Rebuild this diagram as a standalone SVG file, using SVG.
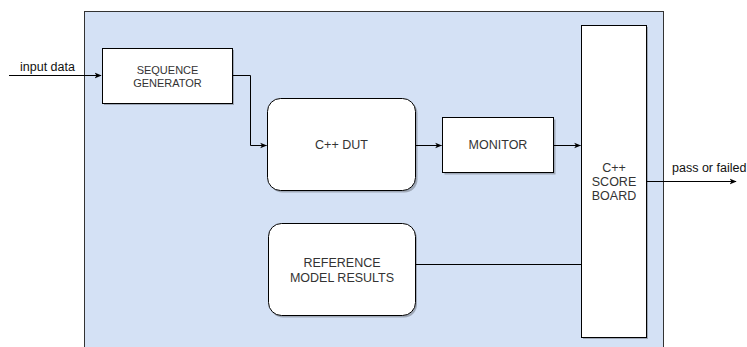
<svg xmlns="http://www.w3.org/2000/svg" width="747" height="347" viewBox="0 0 747 347">
<style>
.box{fill:#ffffff;stroke:#000;stroke-width:1}
.sh{fill:#000;opacity:0.25}
.t{font-family:"Liberation Sans",Arial,sans-serif;font-size:12.5px;fill:#333;text-anchor:middle}
.s{font-size:11px}
.lbl{font-family:"Liberation Sans",Arial,sans-serif;font-size:12.5px;fill:#111}
.c{fill:none;stroke:#000;stroke-width:1}
</style>
<defs>
<marker id="arr" viewBox="0 0 10 10" refX="9" refY="5" markerWidth="7" markerHeight="7" orient="auto" markerUnits="userSpaceOnUse">
<path d="M0,1 L10,5 L0,9 L2.5,5 Z" fill="#000"/>
</marker>
</defs>
<g id="container">
<rect x="84.5" y="11.5" width="579" height="340" fill="#d4e1f5" stroke="#333"/>
</g>
<g id="seqgen">
<rect class="sh" x="104" y="50" width="130" height="55"/>
<rect class="box" x="102.5" y="48.5" width="130" height="55"/>
<text class="t s" x="167.5" y="73.5">SEQUENCE</text>
<text class="t s" x="167.5" y="87">GENERATOR</text>
</g>
<g id="dut">
<rect class="sh" x="269.5" y="100.5" width="148" height="92" rx="13"/>
<rect class="box" x="267.5" y="98.5" width="148" height="92" rx="13"/>
<text class="t" x="341.5" y="149">C++ DUT</text>
</g>
<g id="monitor">
<rect class="sh" x="444.5" y="119.5" width="111" height="55"/>
<rect class="box" x="442.5" y="117.5" width="111" height="55"/>
<text class="t" x="498" y="149">MONITOR</text>
</g>
<g id="scoreboard">
<rect class="sh" x="583" y="27" width="65" height="312"/>
<rect class="box" x="581.5" y="25.5" width="65" height="312"/>
<text class="t" x="614" y="172">C++</text>
<text class="t" x="614" y="186">SCORE</text>
<text class="t" x="614" y="199.5">BOARD</text>
</g>
<g id="refmodel">
<rect class="sh" x="270" y="225.5" width="147" height="92" rx="13"/>
<rect class="box" x="268.5" y="223.5" width="147" height="92" rx="13"/>
<text class="t" x="342" y="267">REFERENCE</text>
<text class="t" x="342" y="282">MODEL RESULTS</text>
</g>
<g id="connectors">
<path class="c" d="M9,75.5 H101" marker-end="url(#arr)"/>
<path class="c" d="M232.5,75.5 H250.5 V145.5 H266.5" marker-end="url(#arr)"/>
<path class="c" d="M415.5,145.5 H441.5" marker-end="url(#arr)"/>
<path class="c" d="M553.5,145.5 H580.5" marker-end="url(#arr)"/>
<path class="c" d="M646.5,181.5 H736" marker-end="url(#arr)"/>
<path class="c" d="M415.5,264.5 H581.5"/>
<text class="lbl" x="20" y="70.5">input data</text>
<text class="lbl" x="672" y="172">pass or failed</text>
</g>
</svg>
